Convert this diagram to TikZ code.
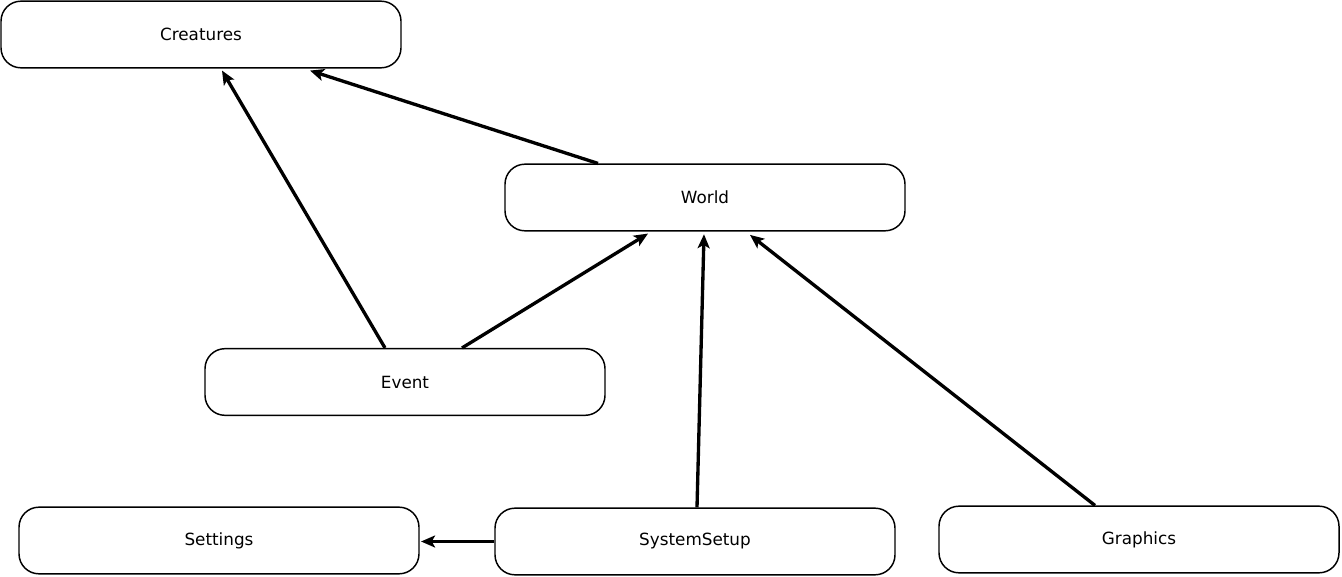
\documentclass[tikz,border=0pt]{standalone}
\usepackage{fontspec}
\setmainfont{DejaVu Sans}
\usetikzlibrary{arrows.meta}
\begin{document}
\begin{tikzpicture}[x=0.75pt,y=-0.75pt,
  box/.style={draw,line width=1.1pt,rounded corners=15pt,minimum width=300pt,minimum height=50pt,inner sep=0pt,font=\fontsize{12.6pt}{15pt}\selectfont},
  arr/.style={line width=2.5pt,-{Stealth[length=10.5pt,width=9pt,inset=2.5pt]}}]
\useasboundingbox (0,0) rectangle (1342,577);
\node[box] (creatures) at (201,34.5) {Creatures};
\node[box] (world) at (705,197.5) {World};
\node[box] (event) at (405,382) {Event};
\node[box] (settings) at (219,540.5) {Settings};
\node[box] (systemsetup) at (695,541.5) {SystemSetup};
\node[box] (graphics) at (1139,539.5) {Graphics};
\draw[arr] ([xshift=-15pt]event.north) -- ([xshift=15.75pt,yshift=-1.5pt]creatures.south);
\draw[arr] ([xshift=-80.25pt]world.north) -- ([xshift=81.75pt,yshift=-1.5pt]creatures.south);
\draw[arr] ([xshift=42.75pt]event.north) -- ([xshift=-42.75pt,yshift=-1.5pt]world.south);
\draw[arr] ([xshift=1.5pt]systemsetup.north) -- ([xshift=-0.75pt,yshift=-2pt]world.south);
\draw[arr] ([xshift=-33pt]graphics.north) -- ([xshift=33.75pt,yshift=-2.5pt]world.south);
\draw[arr] (systemsetup.west) -- ([xshift=1pt]settings.east |- systemsetup.west);
\end{tikzpicture}
\end{document}
